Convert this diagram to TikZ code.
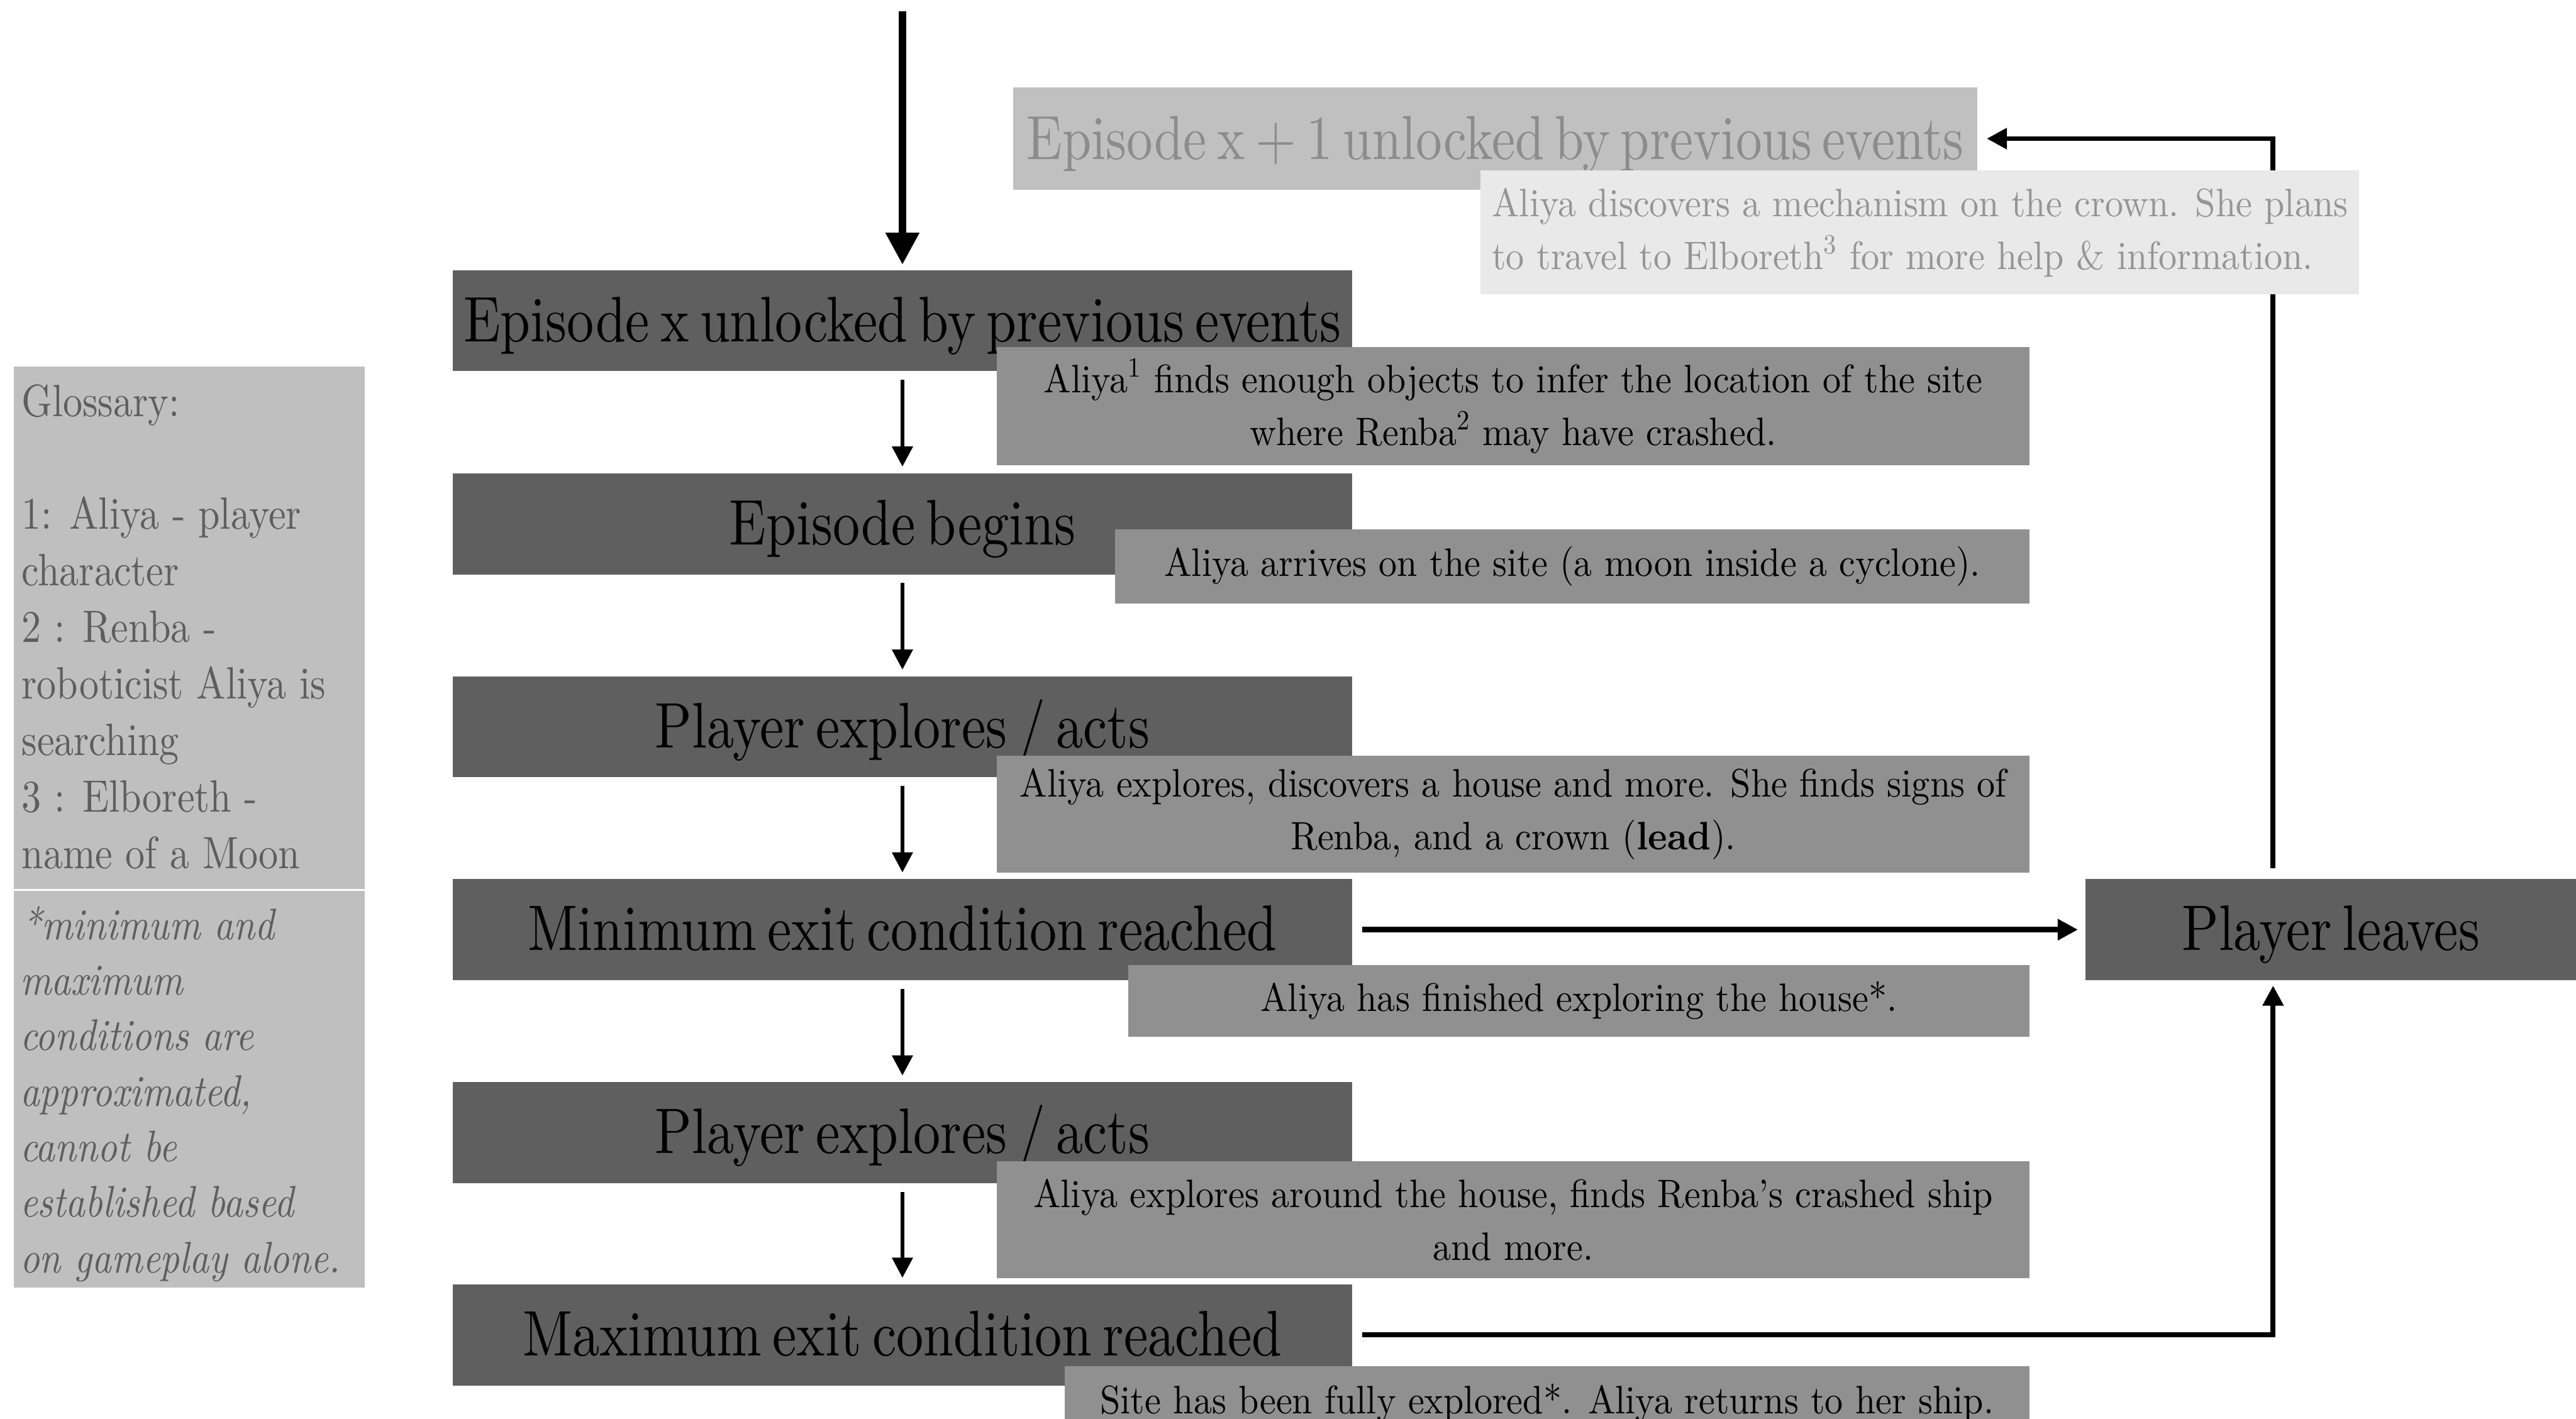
\documentclass[tikz,border=0pt]{standalone}
\usepackage{fontspec}
\usetikzlibrary{arrows.meta}
\newfontfamily\ttlfont{lmroman10-regular.otf}[FakeStretch=0.84, WordSpace=0.6]
\newfontfamily\dscfont{lmroman10-regular.otf}[FakeStretch=0.92, BoldFont=lmroman10-bold.otf]
\newfontfamily\glsfont{lmroman10-regular.otf}[FakeStretch=0.86, ItalicFont=lmroman10-italic.otf]
\definecolor{cdark}{HTML}{5F5F5F}
\definecolor{cmid}{HTML}{909090}
\definecolor{clite}{HTML}{C0C0C0}
\definecolor{cpale}{HTML}{E9E9E9}
\definecolor{cltx}{HTML}{8C8C8C}
\definecolor{cptx}{HTML}{959595}
\definecolor{cgls}{HTML}{BFBFBF}
\definecolor{cglt}{HTML}{5E5E5E}
\pgfdeclarelayer{bg}
\pgfdeclarelayer{lines}
\pgfsetlayers{bg,lines,main}
\newcommand{\pxu}{0.02776cm}
\begin{document}
\begin{tikzpicture}[x=0.02776cm, y=-0.02776cm,
  sz/.style 2 args={minimum width=#1*\pxu, minimum height=#2*\pxu},
  ttl/.style={fill=cdark, text=black, inner sep=0pt,
    font=\ttlfont\fontsize{31pt}{36pt}\selectfont,
    text height=25.6pt, text depth=5.6pt},
  dsc/.style={fill=cmid, text=black, inner sep=0pt, align=center,
    font=\dscfont\fontsize{19.1pt}{25.3pt}\selectfont},
  conn/.style={line width=1.9pt, line join=miter,
    -{Triangle[length=9.7pt,width=9.7pt]}, shorten <=4pt, shorten >=3pt},
  loop/.style={conn, line width=2.4pt},
  bigarrow/.style={line width=3.6pt,
    -{Triangle[length=15.4pt,width=15.4pt]}, shorten >=2.5pt},
  glstext/.style={anchor=north west, inner sep=0pt, align=left, text=cglt,
    execute at begin node={\rule{0pt}{16pt}}},
]
\useasboundingbox (0,0) rectangle (1568,864);
\clip (0,0) rectangle (1568,864);
\begin{pgfonlayer}{bg}
  \fill[white] (0,0) rectangle (1568,864);
\end{pgfonlayer}

% main column: episode stages
\node[ttl, sz={547.4}{61.4}] (e0) at (549.3,195.3) {Episode x unlocked by previous events};
\node[ttl, sz={547.4}{61.5}] (e1) at (549.3,318.95) {Episode begins};
\node[ttl, sz={547.4}{61.5}] (e2) at (549.3,442.55) {Player explores / acts};
\node[ttl, sz={547.4}{61.5}] (e3) at (549.3,566.05) {Minimum exit condition reached};
\node[ttl, sz={547.4}{61.5}] (e4) at (549.3,689.7) {Player explores / acts};
\node[ttl, sz={547.4}{61.5}] (e5) at (549.3,812.85) {Maximum exit condition reached};

% story notes for each stage
\node[dsc, sz={628.5}{72.2}] (d0) at (921.05,247.3)
  {Aliya\textsuperscript{1} finds enough objects to infer the location of the site\\where Renba\textsuperscript{2} may have crashed.};
\node[dsc, sz={556.4}{45.1}] (d1) at (957.1,344.95)
  {Aliya arrives on the site (a moon inside a cyclone).};
\node[dsc, sz={628.5}{71.4}] (d2) at (921.05,495.7)
  {Aliya explores, discovers a house and more. She finds signs of\\Renba, and a crown (\textbf{lead}).};
\node[dsc, sz={548.7}{43.6}] (d3) at (960.95,609.3)
  {Aliya has finished exploring the house*.};
\node[dsc, sz={628.5}{70.9}] (d4) at (921.05,742.65)
  {Aliya explores around the house, finds Renba’s crashed ship\\and more.};
\node[dsc, sz={587.2}{44.4}] (d5) at (941.7,854)
  {Site has been fully explored*. Aliya returns to her ship.};

% next episode and exit
\node[ttl, fill=clite, text=cltx, sz={587}{62.2},
  font=\ttlfont\fontsize{30pt}{36pt}\selectfont] (n1) at (910.1,84.4)
  {Episode x + 1 unlocked by previous events};
\node[dsc, fill=cpale, text=cptx, align=left, sz={534.7}{75.4},
  execute at begin node={\rule{0pt}{18pt}}] (m1) at (1168.65,141.6)
  {Aliya discovers a mechanism on the crown. She plans\\to travel to Elboreth\textsuperscript{3} for more help \& information.};
\node[ttl, sz={298.5}{61.5}] (pl) at (1418.75,566.05) {Player leaves};

% glossary panel
\node[fill=cgls, inner sep=0pt, sz={213.4}{318.2}] (gbox) at (115.3,382.1) {};
\node[fill=cgls, inner sep=0pt, sz={213.4}{241.4}] (nbox) at (115.3,663.3) {};
\node[glstext, font=\glsfont\fontsize{21.8pt}{27.2pt}\selectfont] (gtxt) at (13,233.7)
  {Glossary:\\[27.2pt]1: Aliya - player\\character\\2 : Renba -\\roboticist Aliya is\\searching\\3 : Elboreth -\\name of a Moon};
\node[glstext, font=\glsfont\itshape\fontsize{21.3pt}{26.7pt}\selectfont] (ntxt) at (12,551.5)
  {\hspace*{1pt}*minimum and\\maximum\\conditions are\\approximated,\\cannot be\\established based\\on gameplay alone.};

\coordinate (start) at (549.3,7);
\coordinate (rx) at (1383.6,0);

\begin{pgfonlayer}{lines}
  \draw[bigarrow] (start) -- (e0);
  \draw[conn] (e0) -- (e1);
  \draw[conn] (e1) -- (e2);
  \draw[conn] (e2) -- (e3);
  \draw[conn] (e3) -- (e4);
  \draw[conn] (e4) -- (e5);
  \draw[loop, line width=2.8pt, shorten <=4.7pt, shorten >=3.5pt] (e3) -- (pl);
  \draw[loop, shorten <=4.7pt, shorten >=2.4pt] (e5.east) -| (rx |- pl.south);
  \draw[loop, shorten <=5pt, shorten >=4.3pt] (rx |- pl.north) |- (n1.east);
\end{pgfonlayer}
\end{tikzpicture}
\end{document}
